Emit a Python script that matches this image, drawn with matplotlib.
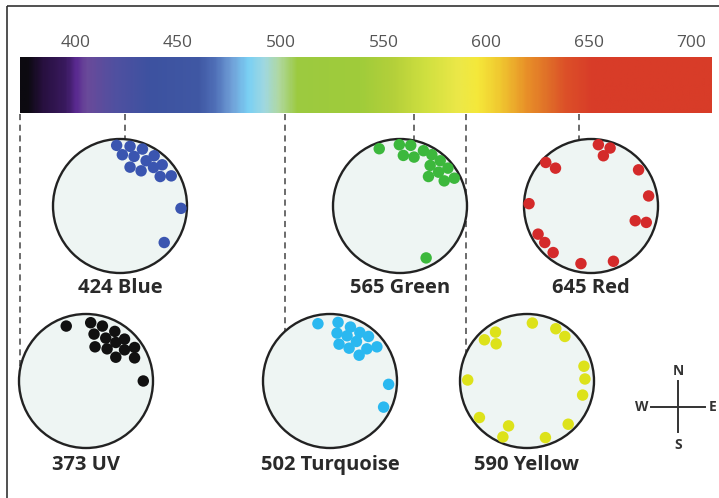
import numpy as np
import matplotlib.pyplot as plt
from matplotlib.colors import LinearSegmentedColormap
from matplotlib.patches import Circle, Rectangle
from matplotlib.transforms import blended_transform_factory

# spectrum colour stops (nm -> colour)
spec_nm = [373, 376, 384, 395, 400, 405, 419, 436, 460, 468, 476, 484, 492, 499,
           508, 539, 555, 571, 587, 596, 607, 620, 630, 639, 652, 710]
spec_col = ['#0c0a10', '#0c0a10', '#281040', '#3a1a60', '#5a2a90', '#6a4a9a', '#5050a0',
            '#3d52a0', '#4058a4', '#5070b8', '#70a0d8', '#7ad0f4', '#a0d8e0', '#b0d8a0',
            '#9cca40', '#a0cc3a', '#b4d03a', '#d0e040', '#ece848', '#f5e83a', '#f0c830',
            '#e89028', '#e07028', '#dc5028', '#d83c28', '#d83c28']
tick_nm = [400, 450, 500, 550, 600, 650, 700]

# panels: label, wavelength, dot colour
labels = ['424 Blue', '565 Green', '645 Red', '373 UV', '502 Turquoise', '590 Yellow']
wavelength = [424, 565, 645, 373, 502, 590]
dot_colors = ['#3a55b0', '#3cb83c', '#d42a2a', '#111111', '#2ab8f0', '#dde21a']

# dot positions, east / north as a fraction of the circle radius
blue_x = [-0.05, 0.15, 0.335, 0.035, 0.21, 0.51, 0.39, 0.15, 0.315, 0.50, 0.63, 0.60, 0.765, 0.91, 0.66]
blue_y = [0.905, 0.89, 0.85, 0.765, 0.74, 0.75, 0.675, 0.58, 0.525, 0.575, 0.615, 0.44, 0.45, -0.035, -0.545]
green_x = [-0.31, -0.01, 0.16, 0.05, 0.21, 0.35, 0.475, 0.60, 0.45, 0.715, 0.575, 0.425, 0.66, 0.81, 0.39]
green_y = [0.855, 0.915, 0.905, 0.755, 0.73, 0.825, 0.765, 0.675, 0.605, 0.565, 0.505, 0.44, 0.375, 0.415, -0.775]
red_x = [0.11, 0.285, 0.185, -0.675, -0.53, 0.71, 0.86, -0.925, 0.66, 0.825, -0.79, -0.69, -0.565, -0.15, 0.335]
red_y = [0.915, 0.865, 0.75, 0.65, 0.565, 0.54, 0.15, 0.035, -0.22, -0.245, -0.42, -0.545, -0.695, -0.86, -0.825]
uv_x = [-0.295, 0.07, 0.245, 0.12, 0.43, 0.295, 0.575, 0.135, 0.445, 0.315, 0.725, 0.575, 0.445, 0.725, 0.855]
uv_y = [0.82, 0.87, 0.82, 0.70, 0.74, 0.64, 0.625, 0.51, 0.575, 0.48, 0.50, 0.465, 0.355, 0.345, 0.0]
turq_x = [-0.18, 0.12, 0.305, 0.105, 0.255, 0.445, 0.575, 0.395, 0.135, 0.285, 0.55, 0.70, 0.435, 0.875, 0.80]
turq_y = [0.855, 0.875, 0.805, 0.715, 0.675, 0.725, 0.665, 0.59, 0.55, 0.49, 0.48, 0.51, 0.385, -0.05, -0.39]
yellow_x = [0.08, 0.43, 0.565, -0.47, -0.635, -0.46, 0.85, 0.865, -0.885, 0.83, -0.71, 0.615, -0.275, -0.36, 0.275]
yellow_y = [0.865, 0.78, 0.665, 0.73, 0.615, 0.555, 0.22, 0.03, 0.015, -0.21, -0.545, -0.645, -0.67, -0.835, -0.845]
dots_x = [blue_x, green_x, red_x, uv_x, turq_x, yellow_x]
dots_y = [blue_y, green_y, red_y, uv_y, turq_y, yellow_y]

# layout (pixels)
W, H = 719, 498
centers = [(120, 206), (400, 206), (591, 206), (86, 381), (330, 381), (527, 381)]
label_y = [288, 288, 288, 465, 465, 465]
R = 67
bar_left, bar_right, bar_top, bar_bottom = 20, 712, 57, 113

fig = plt.figure(figsize=(W / 100, H / 100), dpi=100)
ax = fig.add_axes([0, 0, 1, 1])
ax.set_xlim(0, W)
ax.set_ylim(H, 0)
ax.axis('off')

# frame (runs off the right and bottom edges)
ax.add_patch(Rectangle((7, 6), 900, 700, fill=False, ec='#333333', lw=1.2))

# spectrum bar
ax_bar = fig.add_axes([bar_left / W, 1 - bar_bottom / H,
                       (bar_right - bar_left) / W, (bar_bottom - bar_top) / H])
stops = [(n - spec_nm[0]) / (spec_nm[-1] - spec_nm[0]) for n in spec_nm]
cmap = LinearSegmentedColormap.from_list('spec', list(zip(stops, spec_col)), N=512)
grad = np.linspace(0, 1, 600)[None, :]
ax_bar.imshow(grad, cmap=cmap, aspect='auto', extent=[spec_nm[0], spec_nm[-1], 0, 1])
ax_bar.set_xlim(spec_nm[0], spec_nm[-1])
ax_bar.set_ylim(0, 1)
ax_bar.xaxis.tick_top()
ax_bar.set_xticks(tick_nm)
ax_bar.set_xticklabels([str(t) for t in tick_nm], fontsize=12.5, color='#555555',
                       family='Open Sans')
ax_bar.tick_params(axis='x', length=0, pad=4)
ax_bar.set_yticks([])
for s in ax_bar.spines.values():
    s.set_visible(False)

# guide lines: x in nm on the bar axis, y in pixels
trans = blended_transform_factory(ax_bar.transData, ax.transData)
to_px = ax.transData.inverted()
for wl, (cx, cy) in zip(wavelength, centers):
    px = to_px.transform(ax_bar.transData.transform((wl, 0)))[0]
    dx = min(abs(px - cx), R - 1)
    y_end = cy - np.sqrt(R ** 2 - dx ** 2)
    ax.plot([wl, wl], [bar_bottom + 1, y_end], transform=trans, color='#444444',
            lw=1.1, ls=(0, (4, 3)), zorder=1)

# circles, dots and labels
for i in range(len(labels)):
    cx, cy = centers[i]
    ax.add_patch(Circle((cx, cy), R, fc='#eef5f3', ec='#222222', lw=1.7, zorder=2))
    ax.scatter(cx + np.array(dots_x[i]) * R, cy - np.array(dots_y[i]) * R,
               s=68, color=dot_colors[i], edgecolors='none', zorder=3)
    ax.text(cx, label_y[i], labels[i], ha='center', va='center', fontsize=14.5,
            fontweight='bold', color='#2a2a2a', family='Open Sans')

# compass
ccx, ccy = 678, 407
ax.plot([651, 705], [ccy, ccy], color='#333333', lw=1.4)
ax.plot([ccx, ccx], [381, 432], color='#333333', lw=1.4)
for t, x, y in [('N', ccx, 371), ('S', ccx, 445), ('W', 642, ccy), ('E', 713, ccy)]:
    ax.text(x, y, t, ha='center', va='center', fontsize=10, fontweight='bold',
            color='#333333', family='Open Sans')

fig.savefig('out.png', dpi=100)
